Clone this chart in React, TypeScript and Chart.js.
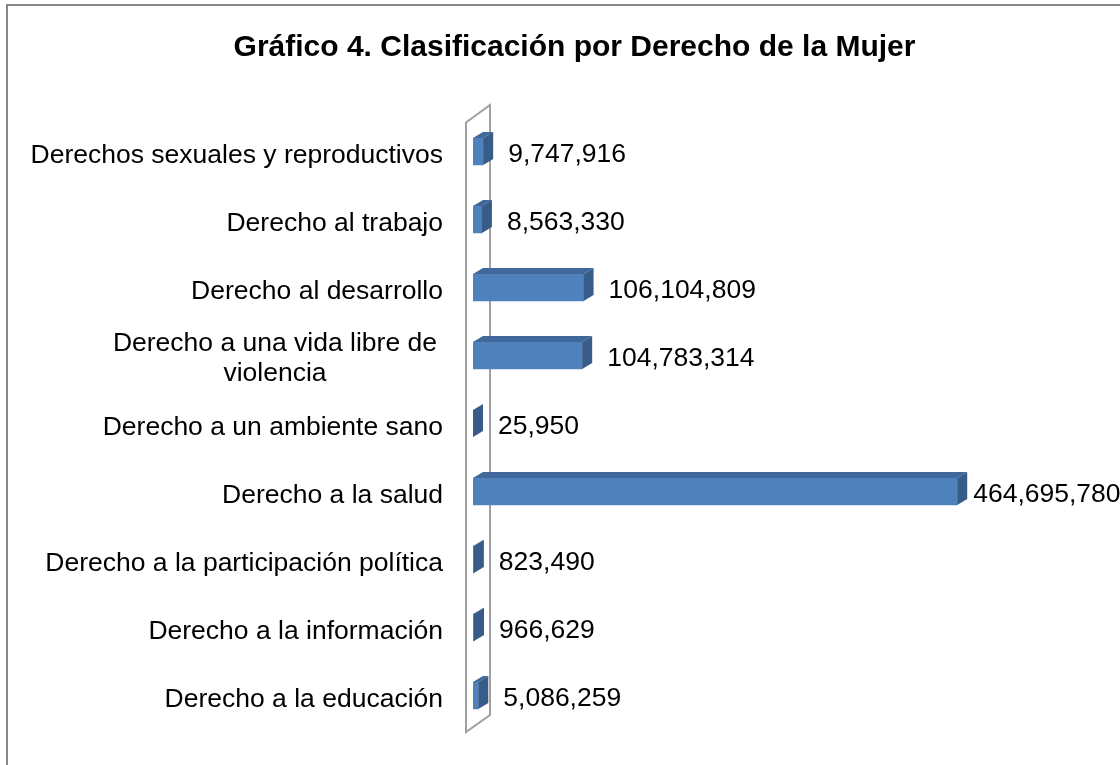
import React, { useEffect, useRef } from "react";
import { Chart, registerables } from "chart.js";

Chart.register(...registerables);

const TITLE = "Gráfico 4. Clasificación por Derecho de la Mujer";

const categories: (string | string[])[] = [
  "Derechos sexuales y reproductivos",
  "Derecho al trabajo",
  "Derecho al desarrollo",
  ["Derecho a una vida libre de", "violencia"],
  "Derecho a un ambiente sano",
  "Derecho a la salud",
  "Derecho a la participación política",
  "Derecho a la información",
  "Derecho a la educación",
];

const values: number[] = [
  9747916, 8563330, 106104809, 104783314, 25950, 464695780, 823490, 966629, 5086259,
];

const X_MIN = 0;
const X_MAX = 500000000;

const FONT = '"Liberation Sans", Arial, sans-serif';
const FRONT = "#4F81BD";
const TOP = "#41689A";
const SIDE = "#385C88";
const DX = 10;
const DY = 6;

const decorPlugin = {
  id: "decor",
  beforeDraw(chart: any) {
    const { ctx, width, height } = chart;
    ctx.save();
    ctx.fillStyle = "#ffffff";
    ctx.fillRect(0, 0, width, height);
    // outer frame (left and top visible)
    ctx.strokeStyle = "#888888";
    ctx.lineWidth = 2;
    ctx.beginPath();
    ctx.moveTo(7, height + 2);
    ctx.lineTo(7, 5);
    ctx.lineTo(width + 2, 5);
    ctx.stroke();
    // title
    ctx.fillStyle = "#000000";
    ctx.font = `bold 30px ${FONT}`;
    ctx.textAlign = "center";
    ctx.textBaseline = "middle";
    ctx.fillText(TITLE, 574.5, 48);
    ctx.restore();
  },
  beforeDatasetsDraw(chart: any) {
    const { ctx, chartArea: ca } = chart;
    ctx.save();
    ctx.strokeStyle = "#A0A0A0";
    ctx.lineWidth = 2;
    const lx = ca.left - 7;
    const rx = ca.left + 17;
    const lt = ca.top + 5;
    const lb = ca.bottom + 2.5;
    const rt = ca.top - 12.5;
    const rb = ca.bottom - 14.5;
    ctx.beginPath();
    ctx.moveTo(lx, lt);
    ctx.lineTo(lx, lb);
    ctx.lineTo(rx, rb);
    ctx.lineTo(rx, rt);
    ctx.closePath();
    ctx.stroke();
    ctx.restore();
  },
  afterDatasetsDraw(chart: any) {
    const { ctx } = chart;
    const meta = chart.getDatasetMeta(0);
    const yScale = chart.scales.y;
    ctx.save();
    meta.data.forEach((bar: any, i: number) => {
      const props = bar.getProps(["x", "y", "base", "height"], true);
      const x0 = Math.min(props.base, props.x);
      const x1 = Math.max(props.base, props.x);
      const top = props.y - props.height / 2;
      const bottom = props.y + props.height / 2;
      // top face
      ctx.fillStyle = TOP;
      ctx.beginPath();
      ctx.moveTo(x0, top);
      ctx.lineTo(x1, top);
      ctx.lineTo(x1 + DX, top - DY);
      ctx.lineTo(x0 + DX, top - DY);
      ctx.closePath();
      ctx.fill();
      // right face
      ctx.fillStyle = SIDE;
      ctx.beginPath();
      ctx.moveTo(x1, top);
      ctx.lineTo(x1 + DX, top - DY);
      ctx.lineTo(x1 + DX, bottom - DY);
      ctx.lineTo(x1, bottom);
      ctx.closePath();
      ctx.fill();
      // value label
      ctx.font = `26.5px ${FONT}`;
      ctx.fillStyle = "#000000";
      ctx.textAlign = "left";
      ctx.textBaseline = "middle";
      const txt = values[i].toLocaleString("en-US");
      const w = ctx.measureText(txt).width;
      let lxp = x1 + 25;
      if (lxp + w > chart.width - 2) lxp = Math.max(x1 + DX + 6, chart.width - 2 - w);
      ctx.fillText(txt, lxp, props.y + 3);
      // category label
      const cy = yScale.getPixelForValue(i) + 4;
      const lab = categories[i];
      if (Array.isArray(lab)) {
        const widths = lab.map((l) => ctx.measureText(l).width);
        const maxW = Math.max(...widths);
        const cx = 437 - maxW / 2;
        ctx.textAlign = "center";
        const lh = 30;
        lab.forEach((l, k) => {
          ctx.fillText(l, cx, cy - 1 + (k - (lab.length - 1) / 2) * lh);
        });
      } else {
        ctx.textAlign = "right";
        ctx.fillText(lab, 443, cy);
      }
    });
    ctx.restore();
  },
};

export default function App() {
  const ref = useRef<HTMLCanvasElement | null>(null);
  useEffect(() => {
    if (!ref.current) return;
    const chart = new Chart(ref.current, {
      type: "bar",
      data: {
        labels: categories as any,
        datasets: [
          {
            data: values,
            backgroundColor: FRONT,
            borderWidth: 0,
            barThickness: 27,
          },
        ],
      },
      options: {
        indexAxis: "y",
        responsive: false,
        animation: false,
        layout: { padding: { left: 473, right: 126, top: 117.5, bottom: 35.5 } },
        scales: {
          x: { display: false, min: X_MIN, max: X_MAX },
          y: { display: false },
        },
        plugins: {
          legend: { display: false },
          title: { display: false },
          tooltip: { enabled: false },
        },
      },
      plugins: [decorPlugin],
    });
    return () => chart.destroy();
  }, []);
  return (
    <div style={{ position: "fixed", left: 0, top: 0, width: 1120, height: 765, background: "#fff" }}>
      <canvas ref={ref} width={1120} height={765} style={{ display: "block" }} />
    </div>
  );
}
